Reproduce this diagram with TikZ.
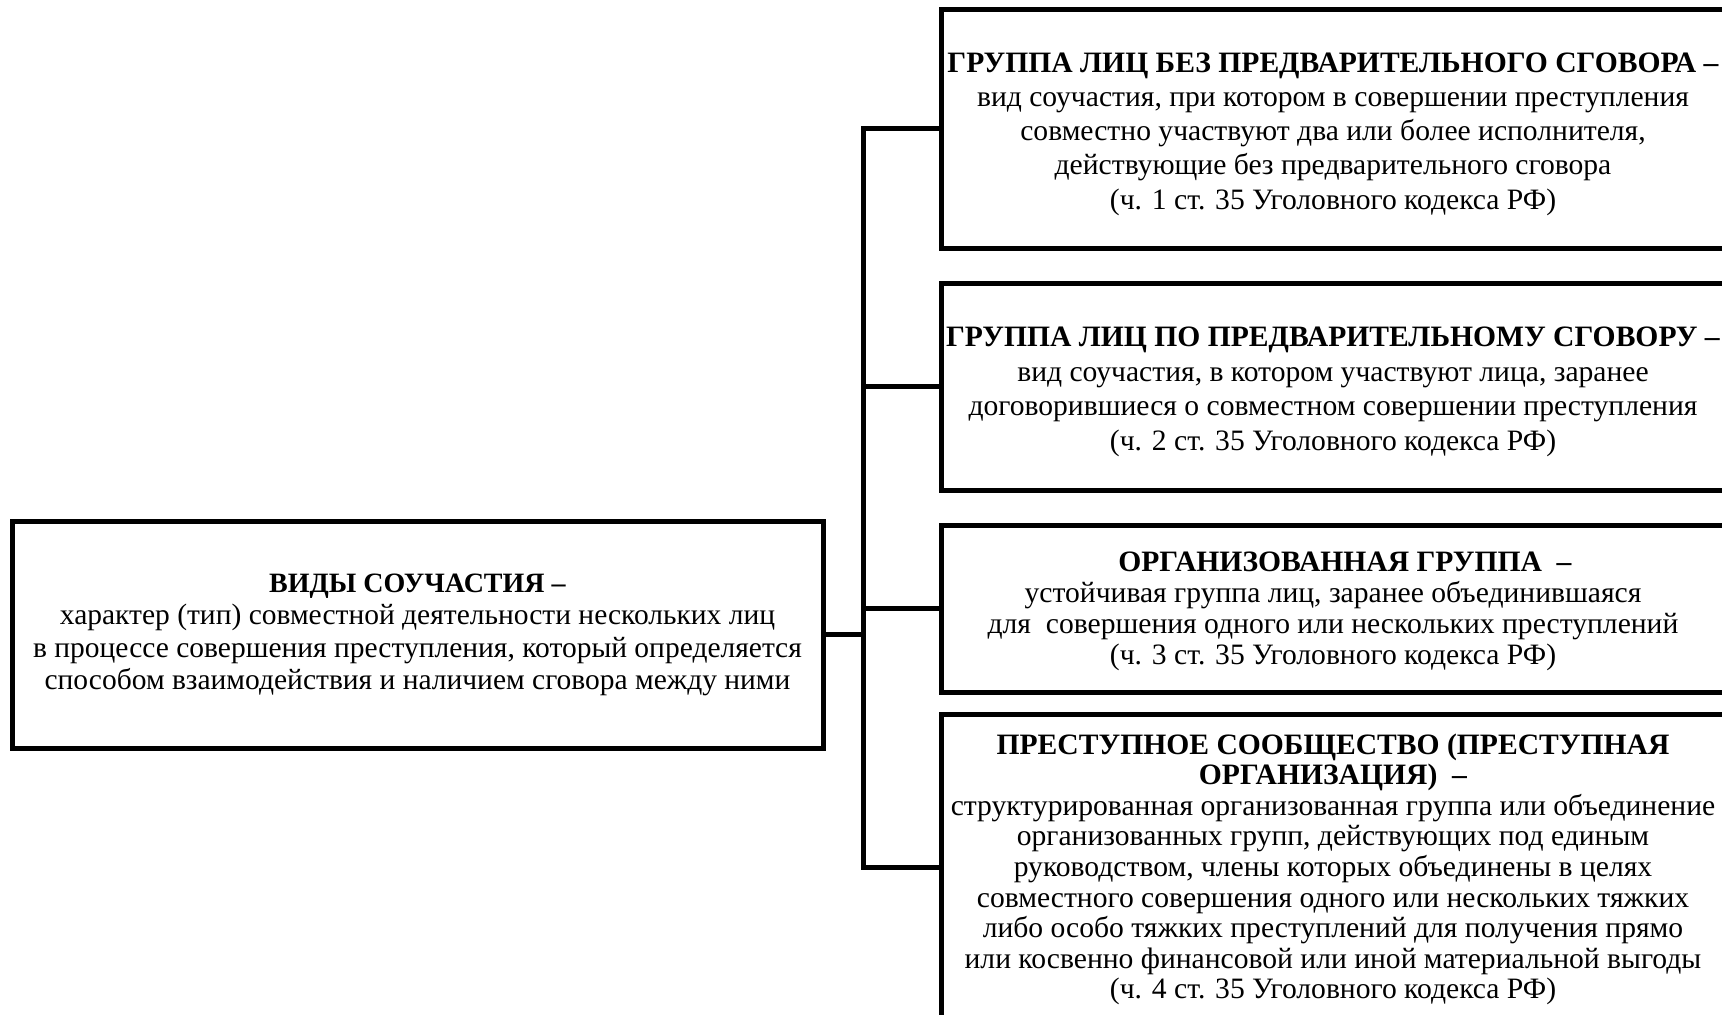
\documentclass[tikz,border=0pt]{standalone}
\usepackage{fontspec}
\setmainfont{Liberation Serif}
\newcommand\btext[4]{\fontsize{#1}{#2}\selectfont\raisebox{#3}[\height][\depth]{\begin{tabular}{@{}c@{}}#4\end{tabular}}}
\begin{document}
\begin{tikzpicture}[x=0.5pt,y=-0.5pt,
  box/.style={draw, line width=2.5pt, inner sep=0pt, outer sep=0pt, anchor=north west},
  link/.style={line width=2.5pt, line join=miter}]
\useasboundingbox (0,0) rectangle (1722,1014);
\clip (0,0) rectangle (1722,1014);

\node[box, minimum width=405.5pt, minimum height=113.5pt] (L) at (12,521)
  {\btext{14.75}{16.3}{0pt}{{\fontsize{14}{16.3}\selectfont\textbf{ВИДЫ СОУЧАСТИЯ –}}\\
   характер (тип) совместной деятельности нескольких лиц\\
   в процессе совершения преступления, который определяется\\
   способом взаимодействия и наличием сговора между ними}};

\node[box, minimum width=392pt, minimum height=119.25pt] (B1) at (941,9.5)
  {\btext{14.8}{17.15}{-2.5pt}{\textbf{ГРУППА ЛИЦ БЕЗ ПРЕДВАРИТЕЛЬНОГО СГОВОРА –}\\
   вид соучастия, при котором в совершении преступления\\
   совместно участвуют два или более исполнителя,\\
   действующие без предварительного сговора\\
   (ч. 1 ст. 35 Уголовного кодекса РФ)}};

\node[box, minimum width=392pt, minimum height=103.5pt] (B2) at (941,283)
  {\btext{14.8}{17.4}{-2.5pt}{\textbf{ГРУППА ЛИЦ ПО ПРЕДВАРИТЕЛЬНОМУ СГОВОРУ –}\\
   вид соучастия, в котором участвуют лица, заранее\\
   договорившиеся о совместном совершении преступления\\
   (ч. 2 ст. 35 Уголовного кодекса РФ)}};

\node[box, minimum width=392pt, minimum height=83.5pt] (B3) at (941,525)
  {\btext{14.8}{15.55}{-1.65pt}{\hspace*{12pt}\textbf{ОРГАНИЗОВАННАЯ ГРУППА\ \ –}\\
   устойчивая группа лиц, заранее объединившаяся\\
   для\ \ совершения одного или нескольких преступлений\\
   (ч. 3 ст. 35 Уголовного кодекса РФ)}};

\node[box, minimum width=392pt, minimum height=153pt] (B4) at (941,714)
  {\btext{14.8}{15.3}{-1.65pt}{\textbf{ПРЕСТУПНОЕ СООБЩЕСТВО (ПРЕСТУПНАЯ}\\
   \textbf{ОРГАНИЗАЦИЯ)\ \ –}\\
   структурированная организованная группа или объединение\\
   организованных групп, действующих под единым\\
   руководством, члены которых объединены в целях\\
   совместного совершения одного или нескольких тяжких\\
   либо особо тяжких преступлений для получения прямо\\
   или косвенно финансовой или иной материальной выгоды\\
   (ч. 4 ст. 35 Уголовного кодекса РФ)}};

\coordinate (bus) at (863,0);
\draw[link] (B1.west) -- (B1.west -| bus) -- (B4.west -| bus) -- (B4.west);
\draw[link] (B2.west) -- (B2.west -| bus);
\draw[link] (B3.west) -- (B3.west -| bus);
\draw[link] (L.east) -- (L.east -| bus);
\end{tikzpicture}
\end{document}
